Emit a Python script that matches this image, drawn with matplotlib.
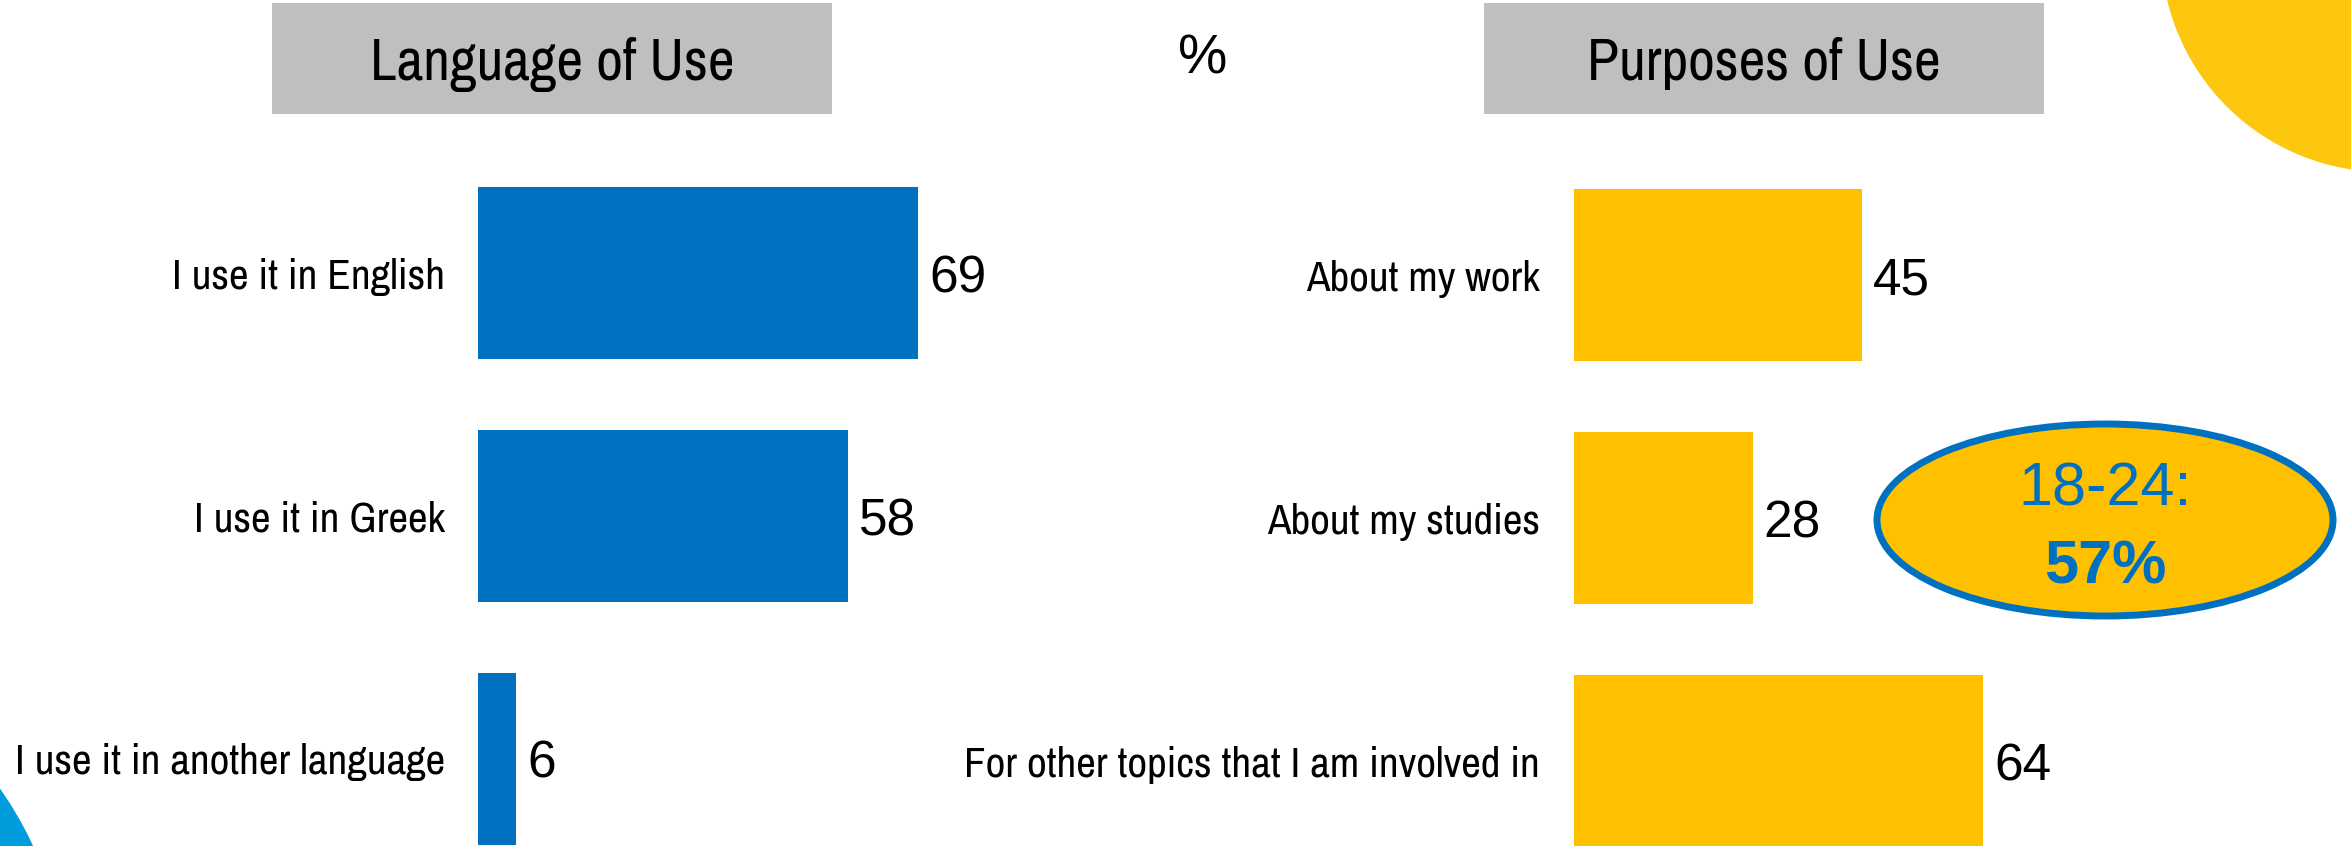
import matplotlib
matplotlib.use("Agg")
import matplotlib.pyplot as plt
from matplotlib.patches import Rectangle, Ellipse, Circle

# data
lang_labels = ["I use it in English", "I use it in Greek", "I use it in another language"]
lang_values = [69, 58, 6]
purpose_labels = ["About my work", "About my studies", "For other topics that I am involved in"]
purpose_values = [45, 28, 64]
highlight_group = "18-24"
highlight_value = 57

left_title = "Language of Use"
right_title = "Purposes of Use"

BLUE = "#0070C0"
YELLOW = "#FFC000"
GREY = "#BFBFBF"
NARROW = ["Archivo Narrow", "DejaVu Sans"]
NUMS = ["Liberation Sans", "DejaVu Sans"]

W, H = 2351, 846
fig = plt.figure(figsize=(W / 100, H / 100), dpi=100)


def px_axes(x0, y0, w, h, **kw):
    # pixel box (top-down) -> figure fraction
    return fig.add_axes([x0 / W, 1 - (y0 + h) / H, w / W, h / H], **kw)


def bar_panel(x0, width, centre0, pitch, labels, values, color):
    ax = px_axes(x0, 0, width, H)
    pos = list(range(len(values)))
    ax.barh(pos, values, height=172 / pitch, color=color)
    ax.set_xlim(0, 100)
    ax.set_ylim((H - centre0) / pitch, -centre0 / pitch)
    ax.set_yticks(pos, labels=labels, fontsize=31, family=NARROW)
    ax.tick_params(axis="y", length=0, pad=24)
    ax.set_xticks([])
    for s in ax.spines.values():
        s.set_visible(False)
    ax.patch.set_visible(False)
    for p, v in zip(pos, values):
        ax.annotate(str(v), (v, p), xytext=(8, 0), textcoords="offset points",
                    ha="left", va="center_baseline", fontsize=37, family=NUMS)
    return ax


bar_panel(478, 638, 273.5, 242.5, lang_labels, lang_values, BLUE)
bar_panel(1573.5, 640, 275, 243, purpose_labels, purpose_values, YELLOW)

# overlay in pixel units for boxes, titles and decorations
ov = fig.add_axes([0, 0, 1, 1], zorder=5)
ov.set_xlim(0, W)
ov.set_ylim(H, 0)
ov.axis("off")

ov.add_patch(Rectangle((272, 3), 560, 111, color=GREY, lw=0))
ov.add_patch(Rectangle((1484, 3), 560, 111, color=GREY, lw=0))
ov.text(552, 64, left_title, ha="center", va="center", fontsize=42, family=NARROW)
ov.text(1764, 64, right_title, ha="center", va="center", fontsize=42, family=NARROW)
ov.text(1203, 60, "%", ha="center", va="center", fontsize=40, family=NUMS)

# corner circles
ov.add_patch(Circle((2385, -52), 224, color="#FDC70F", lw=0))
ov.add_patch(Circle((-300, 1000), 367, color="#009CDC", lw=0))

# highlight bubble
ov.add_patch(Ellipse((2105, 520), 456, 192, facecolor=YELLOW, edgecolor=BLUE, lw=5))
ov.text(2105, 484, f"{highlight_group}:", ha="center", va="center_baseline", fontsize=44,
        color=BLUE, family=NUMS)
ov.text(2105, 562, f"{highlight_value}%", ha="center", va="center_baseline", fontsize=44,
        color=BLUE, fontweight="bold", family=NUMS)

fig.savefig("out.png", dpi=100)
